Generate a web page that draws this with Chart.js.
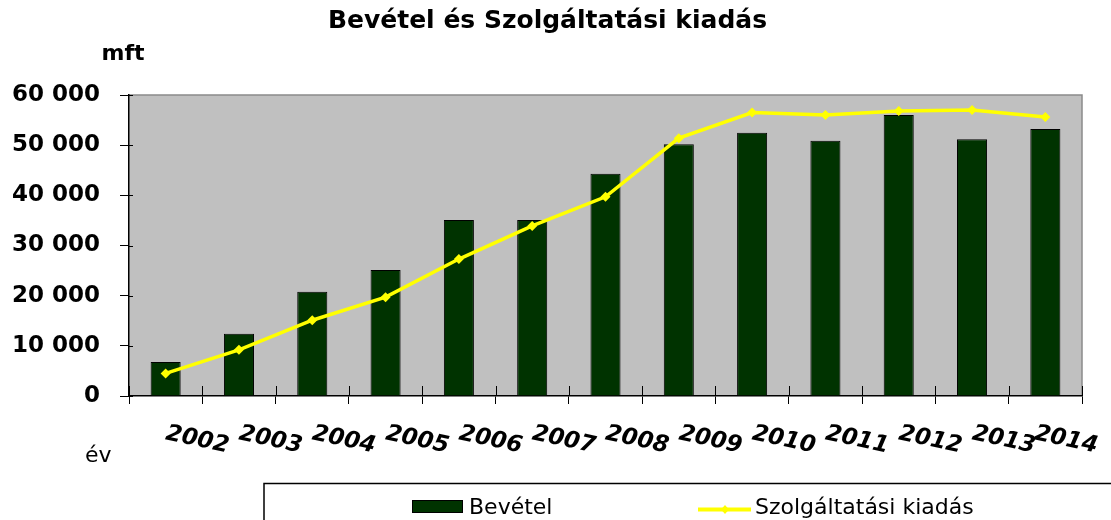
<!DOCTYPE html>
<html>
<head>
<meta charset="utf-8">
<script src="https://cdn.jsdelivr.net/npm/chart.js@4.4.1/dist/chart.umd.min.js"></script>
<style>
  html, body { margin: 0; padding: 0; background: #fff; }
  #wrap { width: 1111px; height: 520px; }
</style>
</head>
<body>
<div id="wrap"><canvas id="c" width="1111" height="520"></canvas></div>
<script>
// adatok (mft)
const years = ['2002','2003','2004','2005','2006','2007','2008','2009','2010','2011','2012','2013','2014'];
const bevetel = [6800, 12400, 20800, 25100, 35100, 35100, 44300, 50200, 52500, 50900, 56000, 51200, 53200];
const kiadas = [4500, 9200, 15100, 19700, 27300, 33900, 39700, 51400, 56500, 56000, 56800, 57000, 55600];
const yTicks = [0, 10000, 20000, 30000, 40000, 50000, 60000];

const FONT = "'DejaVu Sans', 'Liberation Sans', Arial, sans-serif";
const fmt = v => String(v).replace(/\B(?=(\d{3})+(?!\d))/g, ' ');

// szürke rajzterület + keret, belső osztásjelek
const plotBg = {
  id: 'plotBg',
  beforeDraw(chart) {
    const {ctx, chartArea: a} = chart;
    ctx.save();
    ctx.fillStyle = '#C0C0C0';
    ctx.fillRect(a.left, a.top, a.right - a.left, a.bottom - a.top);
    ctx.strokeStyle = '#8a8a8a';
    ctx.lineWidth = 1.5;
    ctx.beginPath();
    ctx.moveTo(a.left, a.top);
    ctx.lineTo(a.right, a.top);
    ctx.lineTo(a.right, a.bottom);
    ctx.stroke();
    ctx.restore();
  },
  beforeDatasetsDraw(chart) {
    const {ctx, chartArea: a, scales: {x, y}} = chart;
    ctx.save();
    ctx.strokeStyle = '#000';
    ctx.lineWidth = 1;
    ctx.beginPath();
    const half = (x.getPixelForValue(1) - x.getPixelForValue(0)) / 2;
    for (let i = 0; i <= years.length; i++) {
      const px = Math.round(x.getPixelForValue(i) - half) + 0.5;
      ctx.moveTo(px, a.bottom);
      ctx.lineTo(px, a.bottom - 10);
    }
    yTicks.forEach(v => {
      const py = Math.round(y.getPixelForValue(v)) + 0.5;
      ctx.moveTo(a.left, py);
      ctx.lineTo(a.left + 4, py);
    });
    ctx.stroke();
    ctx.restore();
  }
};

// ferde évszámok, tengelycímek, jelmagyarázat
const extras = {
  id: 'extras',
  afterDraw(chart) {
    const {ctx, scales: {x}, width} = chart;
    const half = (x.getPixelForValue(1) - x.getPixelForValue(0)) / 2;
    ctx.save();
    ctx.fillStyle = '#000';
    ctx.font = `italic bold 23px ${FONT}`;
    ctx.textAlign = 'center';
    ctx.textBaseline = 'middle';
    years.forEach((lab, i) => {
      const cx = Math.min(x.getPixelForValue(i) + half - 5, width - 45);
      ctx.save();
      ctx.translate(cx, 440);
      ctx.rotate(12 * Math.PI / 180);
      ctx.fillText(lab, 0, 0);
      ctx.restore();
    });

    ctx.textBaseline = 'alphabetic';
    ctx.font = `bold 22px ${FONT}`;
    ctx.fillText('mft', 123, 60);
    ctx.font = `22px ${FONT}`;
    ctx.textAlign = 'left';
    ctx.fillText('év', 85, 462);

    // jelmagyarázat keret
    ctx.strokeStyle = '#000';
    ctx.lineWidth = 1.5;
    ctx.strokeRect(264, 483.5, 900, 60);

    const [dsBar, dsLine] = chart.data.datasets;
    ctx.fillStyle = dsBar.backgroundColor;
    ctx.fillRect(412, 500, 51, 13);
    ctx.lineWidth = 1;
    ctx.strokeRect(412.5, 500.5, 50, 12);
    ctx.fillStyle = '#000';
    ctx.font = `22px ${FONT}`;
    ctx.fillText(dsBar.label, 469, 514);

    ctx.strokeStyle = dsLine.borderColor;
    ctx.lineWidth = 4;
    ctx.beginPath();
    ctx.moveTo(698, 509.5);
    ctx.lineTo(751, 509.5);
    ctx.stroke();
    ctx.fillStyle = dsLine.borderColor;
    ctx.beginPath();
    ctx.moveTo(725, 505); ctx.lineTo(729, 509.5); ctx.lineTo(725, 514); ctx.lineTo(721, 509.5);
    ctx.closePath();
    ctx.fill();
    ctx.fillStyle = '#000';
    ctx.fillText(dsLine.label, 755, 514);
    ctx.restore();
  }
};

new Chart(document.getElementById('c'), {
  data: {
    labels: years,
    datasets: [
      {type: 'bar', label: 'Bevétel', data: bevetel, backgroundColor: '#003300', borderColor: '#000', borderWidth: 1, barPercentage: 0.41, categoryPercentage: 1, order: 1},
      {type: 'line', label: 'Szolgáltatási kiadás', data: kiadas, borderColor: '#FFFF00', backgroundColor: '#FFFF00', borderWidth: 3.5, tension: 0, pointStyle: 'rectRot', pointRadius: 5, pointBorderWidth: 0, pointBackgroundColor: '#FFFF00', order: 0}
    ]
  },
  options: {
    responsive: false,
    animation: false,
    layout: {padding: {left: 13, right: 29, top: 0, bottom: 0}},
    plugins: {
      legend: {display: false},
      tooltip: {enabled: false},
      title: {display: true, text: 'Bevétel és Szolgáltatási kiadás', color: '#000', font: {family: FONT, size: 25, weight: 'bold'}, padding: {top: 6, bottom: 59}}
    },
    scales: {
      x: {
        offset: true,
        grid: {offset: true, drawOnChartArea: false, drawTicks: true, tickLength: 8, color: '#000'},
        border: {display: true, color: '#000', width: 1.5},
        ticks: {display: false},
        afterFit: s => { s.height = 124; }
      },
      y: {
        min: 0, max: 60000,
        afterBuildTicks: s => { s.ticks = yTicks.map(v => ({value: v})); },
        grid: {drawOnChartArea: false, drawTicks: true, tickLength: 9, color: '#000'},
        border: {display: true, color: '#000', width: 1.5},
        ticks: {padding: 20, color: '#000', font: {family: FONT, size: 23, weight: 'bold'}, callback: v => fmt(v)},
        afterFit: s => { s.width = 116; }
      }
    }
  },
  plugins: [plotBg, extras]
});
</script>
</body>
</html>
